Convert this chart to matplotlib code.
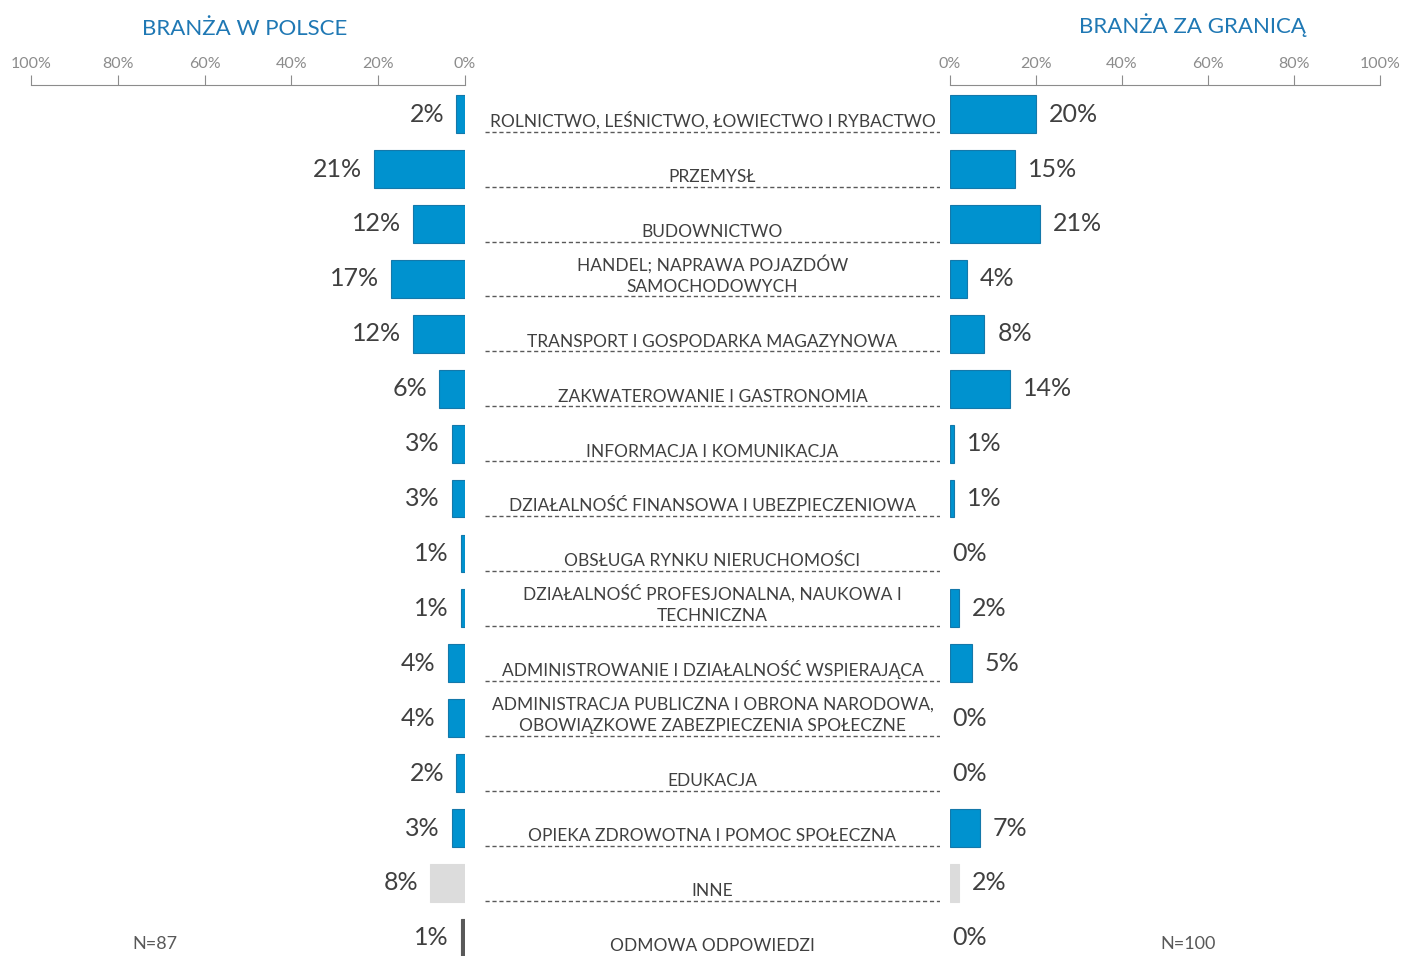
import numpy as np
import matplotlib
matplotlib.use("Agg")
import matplotlib.pyplot as plt

plt.rcParams['font.family'] = ['Lato', 'DejaVu Sans']

# dane
categories = [
    "ROLNICTWO, LEŚNICTWO, ŁOWIECTWO I RYBACTWO",
    "PRZEMYSŁ",
    "BUDOWNICTWO",
    "HANDEL; NAPRAWA POJAZDÓW\nSAMOCHODOWYCH",
    "TRANSPORT I GOSPODARKA MAGAZYNOWA",
    "ZAKWATEROWANIE I GASTRONOMIA",
    "INFORMACJA I KOMUNIKACJA",
    "DZIAŁALNOŚĆ FINANSOWA I UBEZPIECZENIOWA",
    "OBSŁUGA RYNKU NIERUCHOMOŚCI",
    "DZIAŁALNOŚĆ PROFESJONALNA, NAUKOWA I\nTECHNICZNA",
    "ADMINISTROWANIE I DZIAŁALNOŚĆ WSPIERAJĄCA",
    "ADMINISTRACJA PUBLICZNA I OBRONA NARODOWA,\nOBOWIĄZKOWE ZABEZPIECZENIA SPOŁECZNE",
    "EDUKACJA",
    "OPIEKA ZDROWOTNA I POMOC SPOŁECZNA",
    "INNE",
    "ODMOWA ODPOWIEDZI",
]
poland = [2, 21, 12, 17, 12, 6, 3, 3, 1, 1, 4, 4, 2, 3, 8, 1]
abroad = [20, 15, 21, 4, 8, 14, 1, 1, 0, 2, 5, 0, 0, 7, 2, 0]
ticks = [0, 20, 40, 60, 80, 100]
tick_labels = ["0%", "20%", "40%", "60%", "80%", "100%"]

BLUE = "#0092CF"
EDGE = "#1478AA"
bar_colors = [BLUE] * 14 + ["#DCDCDC", "#595959"]
edge_colors = [EDGE] * 14 + ["#DCDCDC", "#595959"]

W, H = 1402, 956
fig = plt.figure(figsize=(W / 100, H / 100), dpi=100)

top = (H - 85) / H
ylim = (15.33, -0.53)
y = np.arange(len(categories))

ax_l = fig.add_axes([31 / W, 0, 434 / W, top])
ax_r = fig.add_axes([950 / W, 0, 430 / W, top])
ax_m = fig.add_axes([485 / W, 0, 455 / W, top])

for ax in (ax_l, ax_r):
    ax.set_ylim(*ylim)
    for s in ("left", "right", "bottom"):
        ax.spines[s].set_visible(False)
    ax.spines["top"].set_color("#8C8C8C")
    ax.xaxis.set_ticks_position("top")
    ax.set_xticks(ticks)
    ax.set_xticklabels(tick_labels)
    ax.tick_params(axis="x", direction="out", length=7, color="#8C8C8C",
                   labelsize=11.5, labelcolor="#8C8C8C", pad=3)
    ax.set_yticks([])
    ax.patch.set_alpha(0)

ax_l.set_xlim(100, 0)
ax_r.set_xlim(0, 100)

for ax, vals in ((ax_l, poland), (ax_r, abroad)):
    lw = [0.8 if v > 0 else 0 for v in vals]
    ax.barh(y, vals, height=0.69, color=bar_colors, edgecolor=edge_colors, linewidth=lw)

for i, v in enumerate(poland):
    ax_l.annotate(f"{v}%", xy=(v, i), xytext=(-12, 0), textcoords="offset pixels",
                  ha="right", va="center", fontsize=18, color="#404040")
for i, v in enumerate(abroad):
    off = 2 if v == 0 else 13
    ax_r.annotate(f"{v}%", xy=(v, i), xytext=(off, 0), textcoords="offset pixels",
                  ha="left", va="center", fontsize=18, color="#404040")

# etykiety kategorii
ax_m.set_xlim(0, 1)
ax_m.set_ylim(*ylim)
ax_m.axis("off")
ax_m.hlines(y[:-1] + 0.32, 0, 1, colors="#595959", linestyles=(0, (3, 2)), linewidth=1)
for i, c in enumerate(categories):
    ax_m.text(0.5, y[i] + 0.29, c, ha="center", va="bottom", fontsize=12.5,
              color="#404040", linespacing=1.4)

fig.text(245 / W, 1 - 29 / H, "BRANŻA W POLSCE", ha="center", va="center",
         fontsize=16, color="#1F78B4")
fig.text(1192 / W, 1 - 25 / H, "BRANŻA ZA GRANICĄ", ha="center", va="center",
         fontsize=16, color="#1F78B4")
fig.text(155 / W, 1 - 944 / H, "N=87", ha="center", va="center",
         fontsize=13, color="#595959")
fig.text(1188 / W, 1 - 944 / H, "N=100", ha="center", va="center",
         fontsize=13, color="#595959")

fig.savefig("out.png", dpi=100)
